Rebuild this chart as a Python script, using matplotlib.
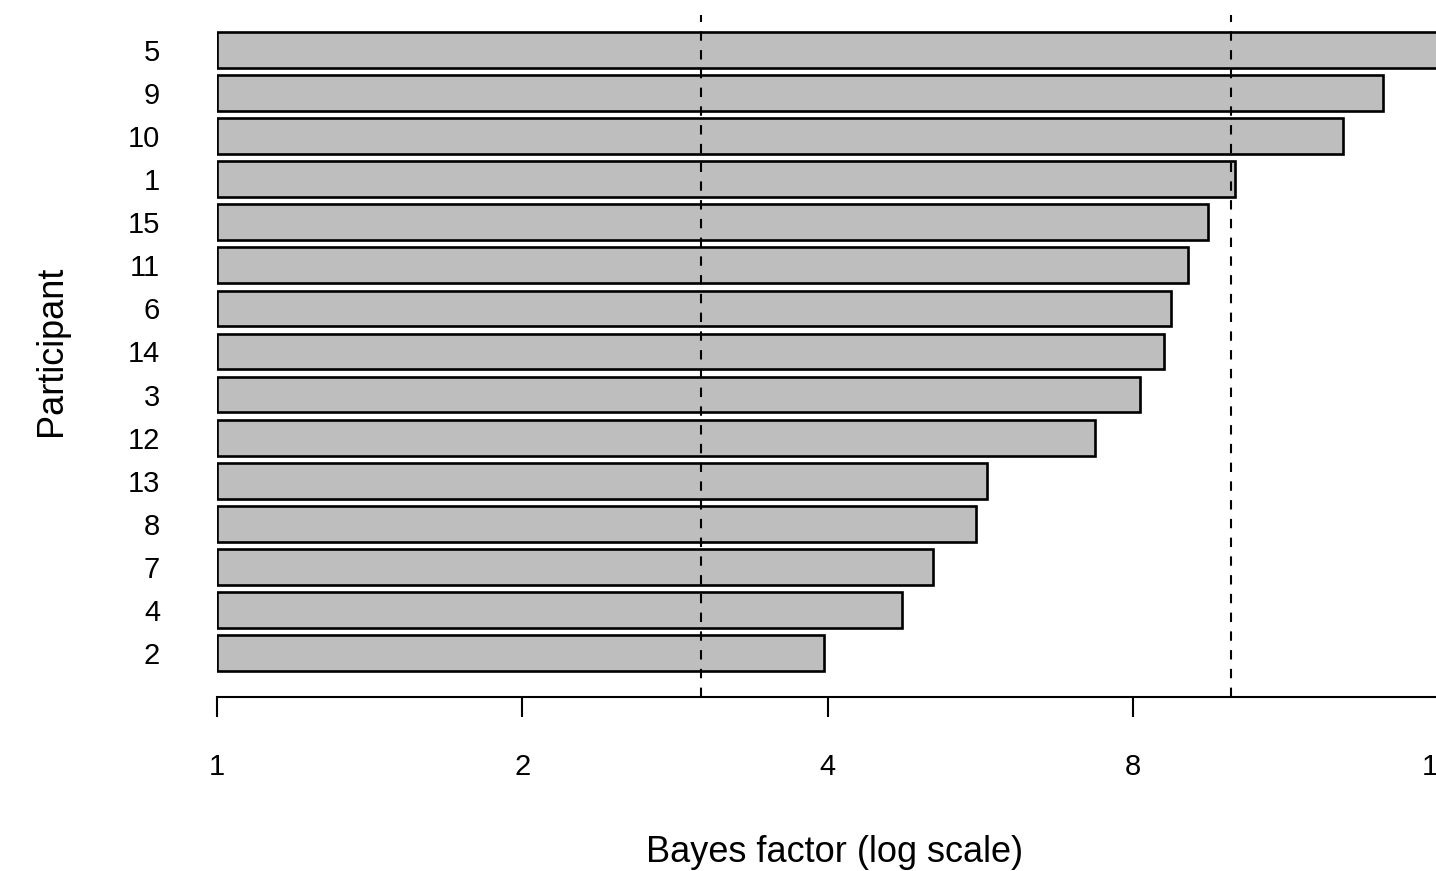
import numpy as np
import matplotlib
matplotlib.use("Agg")
from matplotlib import pyplot as plt

plt.rcParams['font.family'] = ['Liberation Sans', 'DejaVu Sans']

# participants, ordered bottom -> top
participants = ['2', '4', '7', '8', '13', '12', '3', '14', '6', '11', '15', '1', '10', '9', '5']
bayes_factor = [3.97, 4.74, 5.08, 5.60, 5.74, 7.34, 8.13, 8.59, 8.72, 9.07, 9.49, 10.09, 12.9, 14.1, 18.0]
thresholds = [3, 10]
xticks = [1, 2, 4, 8, 16]

W, H = 1436, 871
fig = plt.figure(figsize=(W / 100, H / 100), dpi=100)

# plot region: x=1 at px 217, one doubling = 305.3 px; y from px 15 to 697
xmax = 20
width_px = 305.3 * np.log2(xmax)
ax = fig.add_axes([217 / W, 1 - 697 / H, width_px / W, (697 - 15) / H])

ypos = np.arange(len(participants))
ax.barh(ypos, [v - 1 for v in bayes_factor], left=1, height=0.83,
        color='#bebebe', edgecolor='black', linewidth=1.9)

for t in thresholds:
    ax.axvline(t, color='black', linewidth=1.5, linestyle=(0, (4.5, 4.5)))

ax.set_xscale('log', base=2)
ax.set_xlim(1, xmax)
ax.set_ylim(-1.02, len(participants) - 1 + 0.81)

ax.set_xticks(xticks)
ax.set_xticklabels([str(x) for x in xticks])
ax.xaxis.set_minor_locator(matplotlib.ticker.NullLocator())
ax.set_yticks(ypos)
ax.set_yticklabels(participants)

for s in ['top', 'right', 'left']:
    ax.spines[s].set_visible(False)
ax.spines['bottom'].set_bounds(1, 16)
ax.spines['bottom'].set_linewidth(1.5)
ax.tick_params(axis='x', length=14.5, width=1.5, labelsize=21, pad=26)
ax.tick_params(axis='y', length=0, labelsize=21, pad=41)

fig.text(834.5 / W, 1 - 852 / H, 'Bayes factor (log scale)', fontsize=26,
         ha='center', va='center')
fig.text(52 / W, 1 - 351 / H, 'Participant', fontsize=26, rotation=90,
         ha='center', va='center')

fig.savefig('out.png', dpi=100)
